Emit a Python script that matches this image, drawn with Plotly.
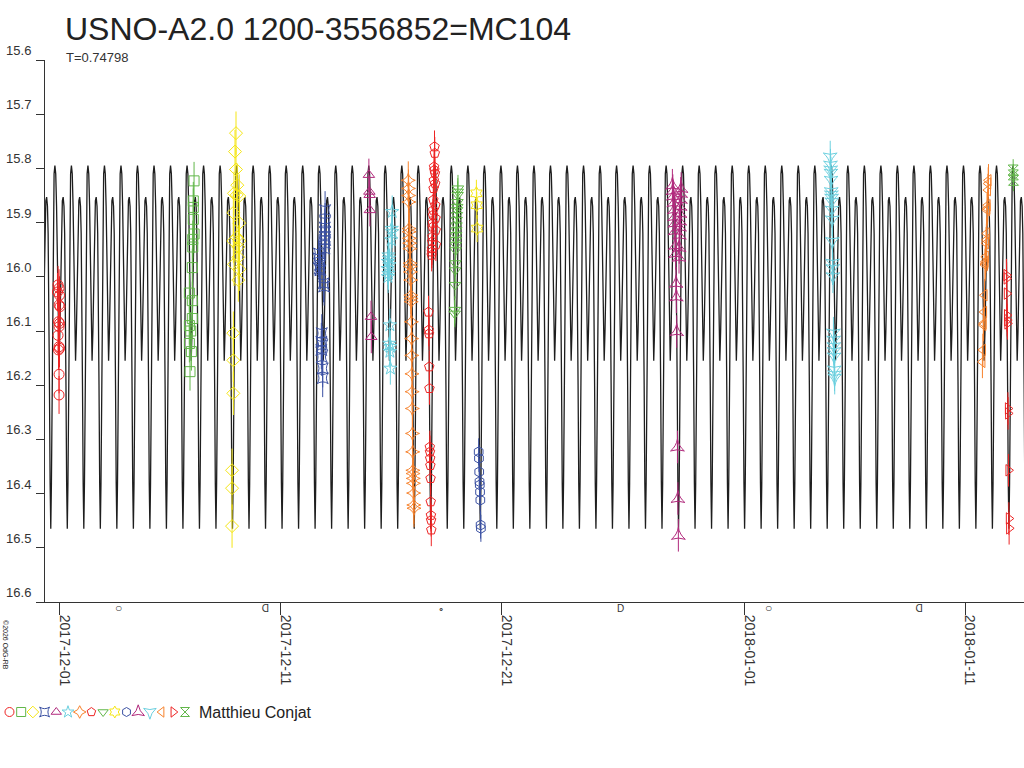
import pandas as pd
import plotly.graph_objects as go

# --------------------------------------------------
# Ephemeris and one cycle of the model light curve
# --------------------------------------------------
PERIOD = 0.74798
EPOCH = pd.Timestamp("2017-12-21 13:09")   # a primary minimum

model_phase = [0.00, 0.04, 0.08, 0.12, 0.16, 0.20, 0.25, 0.30, 0.35, 0.40, 0.45,
               0.50, 0.55, 0.60, 0.65, 0.70, 0.75, 0.80, 0.84, 0.88, 0.92, 0.96]
model_mag = [16.465, 16.38, 16.20, 16.00, 15.87, 15.81, 15.795, 15.81, 15.87, 15.98, 16.10,
             16.155, 16.10, 15.99, 15.90, 15.86, 15.853, 15.87, 15.92, 16.02, 16.20, 16.38]

# --------------------------------------------------
# Observations: night (UT date), hours after that midnight, magnitude
# --------------------------------------------------
s01_night = "2017-11-30"
s01_hours = [22.4, 23.5, 21.8, 24.0, 23.5, 24.5, 22.9, 24.0, 23.5, 22.4, 23.5, 24.0, 22.9, 23.5, 23.5]
s01_mag = [16.015, 16.021, 16.028, 16.034, 16.052, 16.055, 16.083, 16.086, 16.092, 16.108,
           16.129, 16.132, 16.135, 16.180, 16.218]

s02_night = "2017-12-06"
s02_hours = [26.2, 25.4, 25.4, 25.4, 26.2, 24.8, 24.8, 24.3, 21.1, 24.3, 24.3, 21.1, 22.6, 21.1, 23.3, 21.8]
s02_mag = [15.823, 15.860, 15.872, 15.894, 15.921, 15.931, 15.945, 15.983, 16.030, 16.044,
           16.077, 16.090, 16.100, 16.123, 16.138, 16.175]

s03_night = "2017-12-08"
s03_hours = [23.8, 22.7, 23.8, 25.2, 21.6, 24.6, 27.4, 20.9, 27.4, 24.6, 20.9, 27.4, 26.3, 26.3,
             21.6, 27.4, 26.3, 20.9, 20.9, 20.9, 19.5, 19.5, 19.5]
s03_mag = [15.735, 15.769, 15.802, 15.831, 15.846, 15.849, 15.851, 15.882, 15.901, 15.927, 15.934,
           15.934, 15.945, 15.964, 15.977, 15.986, 16.006, 16.104, 16.154, 16.215, 16.357, 16.390, 16.460]

s04_night = "2017-12-12"
s04_hours = [24.6, 24.6, 24.3, 24.6, 24.3, 24.6, 24.3, 24.0, 18.0, 17.5, 19.0, 18.5, 19.5, 23.0,
             23.5, 21.0, 20.5, 21.5, 20.5, 21.0, 22.0, 22.0]
s04_mag = [15.877, 15.899, 15.909, 15.917, 15.926, 15.932, 15.938, 15.948, 15.957, 15.966, 15.978,
           15.985, 15.988, 16.012, 16.018, 16.104, 16.120, 16.126, 16.135, 16.148, 16.169, 16.187]

s05_night = "2017-12-14"
s05_hours = [24.2, 24.7, 25.0, 25.3, 26.5, 26.8]
s05_mag = [15.812, 15.843, 15.849, 15.877, 16.074, 16.111]

s06_night = "2017-12-15"
s06_hours = [25.5, 25.0, 25.5, 24.5, 21.5, 22.0, 21.0, 22.5, 20.5, 21.5, 21.0, 23.0, 22.5, 23.5, 23.0, 23.5]
s06_mag = [15.880, 15.911, 15.917, 15.932, 15.960, 15.966, 15.972, 15.978, 15.985, 15.994, 16.000,
           16.089, 16.123, 16.129, 16.138, 16.169]

s07_night = "2017-12-16"
s07_hours = [19.0, 19.2, 19.4, 19.6, 19.8, 20.0, 20.3, 20.5, 20.7, 21.0, 21.2, 21.4, 21.6, 21.8, 22.0,
             22.2, 22.4, 22.6, 22.8, 23.0, 23.2, 23.4, 23.6, 23.8, 24.0, 24.2, 24.4, 24.6, 24.8, 25.0, 25.2]
s07_mag = [15.822, 15.837, 15.850, 15.862, 15.911, 15.917, 15.929, 15.938, 15.948, 15.975, 15.981,
           15.991, 16.006, 16.034, 16.040, 16.046, 16.083, 16.114, 16.145, 16.179, 16.212, 16.243,
           16.289, 16.323, 16.357, 16.363, 16.372, 16.381, 16.399, 16.421, 16.427]

s08_night = "2017-12-17"
s08_hours = [23.5, 23.8, 23.0, 23.3, 24.0, 22.8, 24.2, 22.5, 22.2, 24.4, 22.0, 21.8, 24.6, 21.6, 21.4,
             24.8, 21.2, 21.0, 25.0, 20.8, 20.6, 20.4,
             17.0, 17.3, 17.5, 17.8, 18.0, 18.4, 18.6, 18.8, 19.0, 19.2, 19.4, 19.6, 19.8, 20.0]
s08_mag = [15.760, 15.772, 15.797, 15.803, 15.809, 15.822, 15.828, 15.837, 15.858, 15.868, 15.877,
           15.886, 15.892, 15.901, 15.908, 15.914, 15.926, 15.935, 15.941, 15.948, 15.954, 15.960,
           16.065, 16.098, 16.105, 16.166, 16.206, 16.314, 16.323, 16.335, 16.348, 16.372, 16.415,
           16.440, 16.449, 16.467]

s09_night = "2017-12-18"
s09_hours = [25.0, 24.8, 24.6, 24.4, 24.2, 24.0, 23.8, 23.6, 23.4, 23.2, 23.0, 22.8, 22.6, 22.4,
             22.2, 22.0, 21.8, 21.6, 21.4]
s09_mag = [15.837, 15.843, 15.849, 15.862, 15.871, 15.877, 15.886, 15.895, 15.905, 15.914, 15.923,
           15.932, 15.941, 15.951, 15.975, 15.988, 16.015, 16.061, 16.068]

s10_night = "2017-12-19"
s10_hours = [21.0, 21.4, 21.8]
s10_mag = [15.846, 15.868, 15.911]

s11_night = "2017-12-19"
s11_hours = [23.5, 23.8, 24.1, 24.4, 24.7, 25.0, 25.3, 25.6, 25.9]
s11_mag = [16.323, 16.335, 16.360, 16.378, 16.384, 16.397, 16.412, 16.458, 16.464]

s12_night = "2017-12-28"
s12_hours = [18.0, 27.5, 18.5, 27.0, 19.0, 26.8, 19.5, 26.5, 20.0, 26.3, 20.3, 26.0, 20.6, 25.8,
             20.9, 25.6, 21.2, 25.4, 21.5, 25.2, 22.0, 22.3, 22.7, 23.5, 24.0, 24.5]
s12_mag = [15.831, 15.837, 15.841, 15.846, 15.851, 15.857, 15.863, 15.870, 15.876, 15.883, 15.889,
           15.897, 15.901, 15.908, 15.915, 15.923, 15.942, 15.946, 15.957, 15.964, 16.012, 16.037,
           16.101, 16.314, 16.409, 16.477]

s13_night = "2018-01-04"
s13_hours = [21.5, 21.8, 22.0, 22.2, 22.4, 22.6, 22.8, 23.0, 23.2, 23.4, 23.6, 23.8, 24.0, 24.2,
             24.4, 25.0, 25.2, 25.4, 25.6, 25.8, 26.0, 26.2, 26.4]
s13_mag = [15.779, 15.794, 15.803, 15.809, 15.822, 15.843, 15.849, 15.855, 15.862, 15.877, 15.895,
           15.935, 15.975, 15.985, 16.000, 16.104, 16.117, 16.129, 16.138, 16.148, 16.172, 16.181, 16.187]

s14_night = "2018-01-11"
s14_hours = [25.5, 25.2, 24.9, 24.6, 24.3, 24.0, 23.5, 23.2, 22.9, 22.6, 22.3, 22.0, 21.7, 21.2,
             20.7, 20.2, 19.9, 19.4, 18.9]
s14_mag = [15.822, 15.828, 15.840, 15.868, 15.874, 15.877, 15.920, 15.932, 15.938, 15.963, 15.972,
           15.975, 15.978, 16.034, 16.065, 16.086, 16.089, 16.135, 16.157]

s15_night = "2018-01-12"
s15_hours = [21.0, 21.2, 21.4, 21.6, 21.8, 22.0, 22.6, 22.8, 23.2, 23.6, 23.9]
s15_mag = [15.997, 16.003, 16.031, 16.071, 16.080, 16.086, 16.243, 16.252, 16.357, 16.446, 16.464]

s16_night = "2018-01-12"
s16_hours = [28.3, 28.5, 28.7]
s16_mag = [15.803, 15.812, 15.822]

session_err = [0.035, 0.035, 0.04, 0.035, 0.03, 0.03, 0.035, 0.03,
               0.025, 0.025, 0.025, 0.03, 0.03, 0.03, 0.03, 0.02]

symbols = ["circle-open", "square-open", "diamond-open", "star-square-open",
           "triangle-up-open", "star-open", "star-diamond-open", "pentagon-open",
           "triangle-down-open", "hexagram-open", "hexagon-open", "star-triangle-up-open",
           "star-triangle-down-open", "triangle-left-open", "triangle-right-open", "hourglass-open"]
palette = ["#ee2424", "#62b74a", "#f5e614", "#3b51a3", "#b1297c", "#6cd0df", "#f7822c"]

observer = "Matthieu Conjat"
title_text = "USNO-A2.0 1200-3556852=MC104"

# moon phases (UT): full, last quarter, new, first quarter, ...
moon_time = ["2017-12-03 15:47", "2017-12-10 07:51", "2017-12-18 06:30",
             "2017-12-26 09:20", "2018-01-02 02:24", "2018-01-08 22:25"]
moon_icon = ["○", "D", "∘", "D", "○", "D"]
moon_turn = [0, 180, 0, 0, 0, 180]
moon_size = [12, 10, 10, 10, 12, 10]

date_ticks = ["2017-12-01", "2017-12-11", "2017-12-21", "2018-01-01", "2018-01-11"]
x_start = "2017-11-30 08:14"
x_end = "2018-01-13 16:05"

sessions = [
    (s01_night, s01_hours, s01_mag), (s02_night, s02_hours, s02_mag),
    (s03_night, s03_hours, s03_mag), (s04_night, s04_hours, s04_mag),
    (s05_night, s05_hours, s05_mag), (s06_night, s06_hours, s06_mag),
    (s07_night, s07_hours, s07_mag), (s08_night, s08_hours, s08_mag),
    (s09_night, s09_hours, s09_mag), (s10_night, s10_hours, s10_mag),
    (s11_night, s11_hours, s11_mag), (s12_night, s12_hours, s12_mag),
    (s13_night, s13_hours, s13_mag), (s14_night, s14_hours, s14_mag),
    (s15_night, s15_hours, s15_mag), (s16_night, s16_hours, s16_mag),
]

W, H = 1024, 768
AX_L, AX_TOP, AX_BOT = 45, 60, 602


def px(x, y):
    """pixel position in the page -> paper coordinates"""
    return x / W, 1 - y / H


fig = go.Figure()

# --------------------------------------------------
# Model curve: the cycle repeated with the period
# --------------------------------------------------
curve_t, curve_m = [], []
for n in range(-30, 33):
    for ph, mg in zip(model_phase, model_mag):
        curve_t.append(EPOCH + pd.to_timedelta((n + ph) * PERIOD, unit="D"))
        curve_m.append(mg)

fig.add_trace(go.Scatter(
    x=curve_t, y=curve_m, mode="lines",
    line=dict(color="#1e1e1e", width=1.3),
    hoverinfo="skip", showlegend=False
))

# --------------------------------------------------
# Observations
# --------------------------------------------------
for i, (night, hours, mags) in enumerate(sessions):
    color = palette[i % len(palette)]
    times = pd.Timestamp(night) + pd.to_timedelta(hours, unit="h")
    fig.add_trace(go.Scatter(
        x=times, y=mags, mode="markers",
        marker=dict(symbol=symbols[i], size=10, color=color, line=dict(width=1, color=color)),
        error_y=dict(type="constant", value=session_err[i], thickness=1, width=0, color=color),
        showlegend=False
    ))

# moon phase icons under the time axis
for t, icon, turn, size in zip(moon_time, moon_icon, moon_turn, moon_size):
    fig.add_annotation(x=t, xref="x", y=px(0, 608)[1], yref="paper", text=icon,
                       textangle=turn, yanchor="middle", showarrow=False,
                       font=dict(size=size, color="#333333"))

# --------------------------------------------------
# Symbol strip with the observer name
# --------------------------------------------------
strip_colors = [palette[i % len(palette)] for i in range(len(symbols))]
fig.add_trace(go.Scatter(
    x=list(range(len(symbols))), y=[0] * len(symbols), mode="markers",
    marker=dict(symbol=symbols, size=9, color=strip_colors,
                line=dict(width=1, color=strip_colors)),
    xaxis="x2", yaxis="y2", hoverinfo="skip", showlegend=False
))

ax, ay = px(197, 712)
fig.add_annotation(x=ax, y=ay, xref="paper", yref="paper", text=observer,
                   xanchor="left", yanchor="middle", showarrow=False,
                   font=dict(size=16, color="#222222"))
ax, ay = px(63, 29)
fig.add_annotation(x=ax, y=ay, xref="paper", yref="paper", text=title_text,
                   xanchor="left", yanchor="middle", showarrow=False,
                   font=dict(size=32, color="#222222"))
ax, ay = px(64, 57)
fig.add_annotation(x=ax, y=ay, xref="paper", yref="paper", text="T=0.74798",
                   xanchor="left", yanchor="middle", showarrow=False,
                   font=dict(size=13, color="#333333"))
ax, ay = px(6, 645)
fig.add_annotation(x=ax, y=ay, xref="paper", yref="paper", text="©2026 OdG-RB",
                   textangle=90, xanchor="center", yanchor="middle", showarrow=False,
                   font=dict(size=7, color="#222222"))

fig.update_layout(
    width=W, height=H,
    margin=dict(l=0, r=0, t=0, b=0, autoexpand=False),
    plot_bgcolor="white", paper_bgcolor="white",
    font=dict(family="Liberation Sans, Arial, sans-serif", color="#333333"),
    showlegend=False,
    xaxis=dict(
        domain=[AX_L / W, 1], range=[x_start, x_end], type="date",
        tickvals=date_ticks, tickformat="%Y-%m-%d", tickangle=90,
        ticks="outside", ticklen=12, tickcolor="#333333",
        ticklabelposition="outside right", ticklabelshift=4, ticklabelstandoff=9,
        tickfont=dict(size=14, color="#333333"),
        showline=True, linecolor="#333333", linewidth=1,
        showgrid=False, zeroline=False, automargin=False
    ),
    yaxis=dict(
        domain=[1 - AX_BOT / H, 1 - AX_TOP / H], range=[16.6, 15.6],
        tickvals=[15.6 + 0.1 * k for k in range(11)], tickformat=".1f",
        ticks="outside", ticklen=8, tickcolor="#333333",
        ticklabelposition="outside top", ticklabelstandoff=10,
        tickfont=dict(size=13, color="#333333"),
        showline=True, linecolor="#333333", linewidth=1,
        showgrid=False, zeroline=False, automargin=False
    ),
    xaxis2=dict(domain=[0, 200 / W], range=[-0.81, 16.28], visible=False, anchor="y2"),
    yaxis2=dict(domain=[1 - 722 / H, 1 - 702 / H], range=[-1, 1], visible=False, anchor="x2"),
)

fig.write_html("out.html", config={"displayModeBar": False},
               post_script="document.body.style.margin='0';")
